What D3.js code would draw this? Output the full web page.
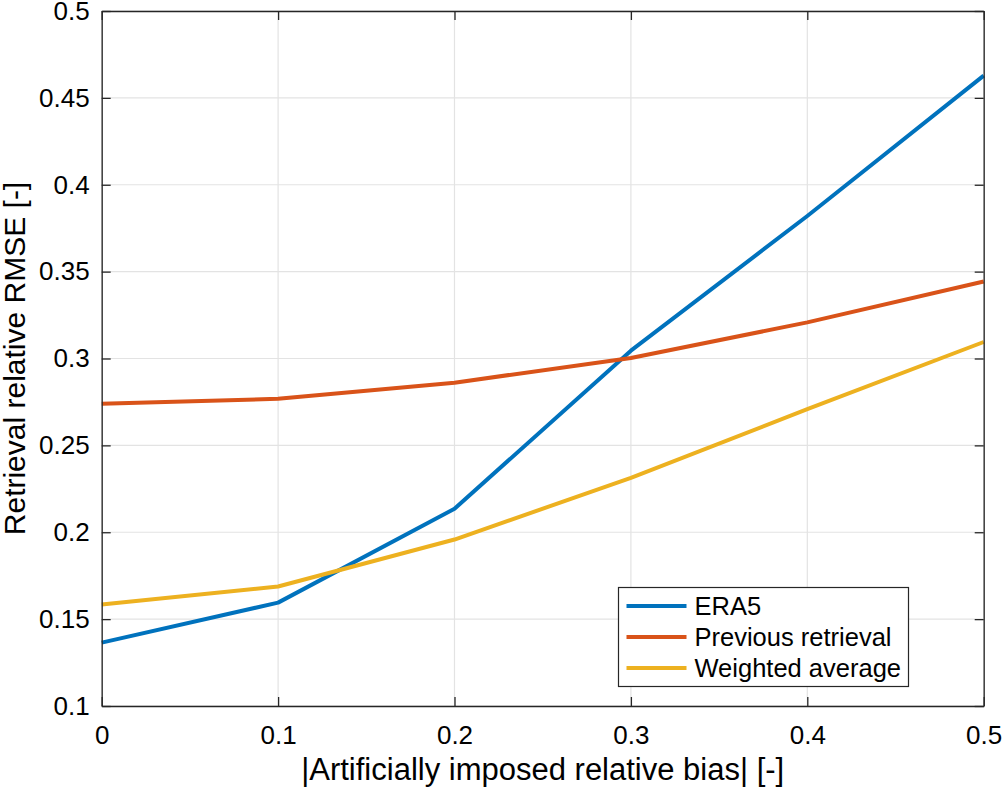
<!DOCTYPE html>
<html><head><meta charset="utf-8">
<script src="https://cdn.jsdelivr.net/npm/d3@7"></script>
<style>body{margin:0;background:#fff}svg{display:block}text{font-family:"Liberation Sans",Arial,Helvetica,sans-serif;fill:#000}</style>
</head><body><svg id="c" width="1004" height="790"></svg>
<script>
const xValues = [0, 0.1, 0.2, 0.3, 0.4, 0.5];
const era5 = [0.1365, 0.1595, 0.2135, 0.3045, 0.382, 0.4628];
const previousRetrieval = [0.274, 0.2768, 0.2861, 0.3003, 0.3208, 0.3443];
const weightedAverage = [0.1584, 0.1688, 0.1958, 0.2313, 0.2708, 0.3095];
const seriesNames = ["ERA5", "Previous retrieval", "Weighted average"];
const seriesColors = ["#0072BD", "#D95319", "#EDB120"];
const xTicks = [0, 0.1, 0.2, 0.3, 0.4, 0.5];
const yTicks = [0.1, 0.15, 0.2, 0.25, 0.3, 0.35, 0.4, 0.45, 0.5];
const xLabel = "|Artificially imposed relative bias| [-]";
const yLabel = "Retrieval relative RMSE [-]";

const svg = d3.select("#c");
const L = 101.7, R = 983.7, T = 11, B = 706;
const x = d3.scaleLinear().domain([0, 0.5]).range([L, R]);
const y = d3.scaleLinear().domain([0.1, 0.5]).range([B, T]);
const axisColor = "#262626";
const fmt = d => String(+d.toFixed(2));

// grid
const g = svg.append("g");
g.selectAll(".gx").data(xTicks).join("line")
  .attr("x1", d => x(d)).attr("x2", d => x(d)).attr("y1", T).attr("y2", B)
  .attr("stroke", "#e3e3e3").attr("stroke-width", 1.2);
g.selectAll(".gy").data(yTicks).join("line")
  .attr("y1", d => y(d)).attr("y2", d => y(d)).attr("x1", L).attr("x2", R)
  .attr("stroke", "#e3e3e3").attr("stroke-width", 1.2);

// series
const data = [era5, previousRetrieval, weightedAverage];
const line = d3.line().x((d, i) => x(xValues[i])).y(d => y(d));
data.forEach((s, k) => {
  svg.append("path").datum(s).attr("d", line).attr("fill", "none")
    .attr("stroke", seriesColors[k]).attr("stroke-width", 4).attr("stroke-linejoin", "round");
});

// axes
const tickLen = -9;
const axB = d3.axisBottom(x).tickValues(xTicks).tickSize(tickLen).tickSizeOuter(0).tickPadding(20).tickFormat(fmt);
const axT = d3.axisTop(x).tickValues(xTicks).tickSize(tickLen).tickSizeOuter(0).tickFormat("");
const axL = d3.axisLeft(y).tickValues(yTicks).tickSize(tickLen).tickSizeOuter(0).tickPadding(12).tickFormat(fmt);
const axR = d3.axisRight(y).tickValues(yTicks).tickSize(tickLen).tickSizeOuter(0).tickFormat("");
function style(sel) {
  sel.select(".domain").attr("stroke", axisColor).attr("stroke-width", 1.3);
  sel.selectAll(".tick line").attr("stroke", axisColor).attr("stroke-width", 1.3);
  sel.selectAll(".tick text").attr("font-size", 26).attr("fill", "#000")
    .style("font-family", '"Liberation Sans", Arial, sans-serif');
}
svg.append("g").attr("transform", `translate(0,${B})`).call(axB).call(style);
svg.append("g").attr("transform", `translate(0,${T})`).call(axT).call(style);
svg.append("g").attr("transform", `translate(${L},0)`).call(axL).call(style);
svg.append("g").attr("transform", `translate(${R},0)`).call(axR).call(style);

// labels
svg.append("text").attr("x", (L + R) / 2).attr("y", 780).attr("text-anchor", "middle")
  .attr("font-size", 31).text(xLabel);
svg.append("text").attr("transform", `translate(25,${(T + B) / 2}) rotate(-90)`)
  .attr("text-anchor", "middle").attr("font-size", 30).text(yLabel);

// legend
const lg = svg.append("g").attr("transform", "translate(618.5,587.5)");
lg.append("rect").attr("width", 290).attr("height", 99).attr("fill", "#fff")
  .attr("stroke", axisColor).attr("stroke-width", 1.2);
seriesNames.forEach((n, i) => {
  const cy = 18.5 + i * 31;
  lg.append("line").attr("x1", 8).attr("x2", 68).attr("y1", cy).attr("y2", cy)
    .attr("stroke", seriesColors[i]).attr("stroke-width", 4);
  lg.append("text").attr("x", 76).attr("y", cy).attr("dy", "0.35em").attr("font-size", 25.5).text(n);
});
</script></body></html>
